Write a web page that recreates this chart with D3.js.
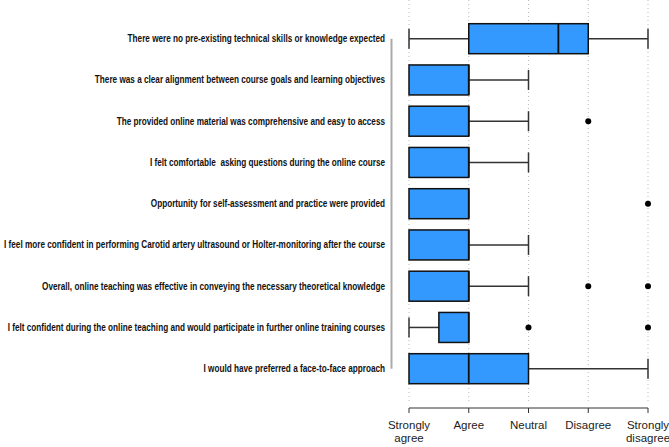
<!DOCTYPE html>
<html>
<head>
<meta charset="utf-8">
<script src="https://cdn.jsdelivr.net/npm/d3@7"></script>
<style>
  body { margin: 0; background: #fff; }
  svg { display: block; }
</style>
</head>
<body>
<script>
// survey items, top to bottom
const questions = [
  "There were no pre-existing technical skills or knowledge expected",
  "There was a clear alignment between course goals and learning objectives",
  "The provided online material was comprehensive and easy to access",
  "I felt comfortable  asking questions during the online course",
  "Opportunity for self-assessment and practice were provided",
  "I feel more confident in performing Carotid artery ultrasound or Holter-monitoring after the course",
  "Overall, online teaching was effective in conveying the necessary theoretical knowledge",
  "I felt confident during the online teaching and would participate in further online training courses",
  "I would have preferred a face-to-face approach"
];

// boxplot stats (1 = strongly agree ... 5 = strongly disagree)
const whiskerLow  = [1, 1, 1, 1, 1, 1, 1, 1,   1];
const q1          = [2, 1, 1, 1, 1, 1, 1, 1.5, 1];
const medians     = [3.5, 2, 2, 2, 2, 2, 2, 2, 2];
const q3          = [4, 2, 2, 2, 2, 2, 2, 2,   3];
const whiskerHigh = [5, 3, 3, 3, 2, 3, 3, 2,   5];
const outliers    = [[], [], [4], [], [5], [], [4, 5], [3, 5], []];

const tickValues = [1, 2, 3, 4, 5];
const tickLabels = [["Strongly", "agree"], ["Agree"], ["Neutral"], ["Disagree"], ["Strongly", "disagree"]];

const width = 669, height = 447;

const svg = d3.select("body").append("svg")
  .attr("width", width)
  .attr("height", height);

const x = d3.scaleLinear().domain([1, 5]).range([409, 648]);
const y = d3.scalePoint().domain(questions).range([38.7, 368.7]);

const boxH = 30, capH = 20;

// dotted grid
svg.append("g")
  .selectAll("line")
  .data(tickValues)
  .join("line")
  .attr("x1", d => x(d)).attr("x2", d => x(d))
  .attr("y1", 0).attr("y2", 403)
  .attr("stroke", "#bbb")
  .attr("stroke-width", 1)
  .attr("stroke-dasharray", "1,3");

// left axis line (grey)
svg.append("line")
  .attr("x1", 391.5).attr("x2", 391.5)
  .attr("y1", y(questions[0])).attr("y2", y(questions[questions.length - 1]))
  .attr("stroke", "#aaa")
  .attr("stroke-width", 2);

// question labels (condensed bold, narrow font not installed so squeeze horizontally)
svg.append("g")
  .selectAll("text")
  .data(questions)
  .join("text")
  .attr("transform", d => "translate(385," + y(d) + ") scale(0.82,1)")
  .attr("dy", "0.35em")
  .attr("text-anchor", "end")
  .style("font-family", "'Liberation Sans', Arial, sans-serif")
  .style("font-weight", "bold")
  .style("font-size", "10px")
  .style("white-space", "pre")
  .attr("fill", "#111")
  .text(d => d);

const rows = questions.map((q, i) => ({
  q, lo: whiskerLow[i], q1: q1[i], med: medians[i], q3: q3[i], hi: whiskerHigh[i], out: outliers[i]
}));

const g = svg.append("g")
  .selectAll("g")
  .data(rows)
  .join("g")
  .attr("transform", d => "translate(0," + y(d.q) + ")");

const wColor = "#333";

// whiskers
g.filter(d => d.lo < d.q1).append("line")
  .attr("x1", d => x(d.lo)).attr("x2", d => x(d.q1))
  .attr("stroke", wColor).attr("stroke-width", 1.5);
g.filter(d => d.lo < d.q1).append("line")
  .attr("x1", d => x(d.lo)).attr("x2", d => x(d.lo))
  .attr("y1", -capH / 2).attr("y2", capH / 2)
  .attr("stroke", wColor).attr("stroke-width", 1.5);
g.filter(d => d.hi > d.q3).append("line")
  .attr("x1", d => x(d.q3)).attr("x2", d => x(d.hi))
  .attr("stroke", wColor).attr("stroke-width", 1.5);
g.filter(d => d.hi > d.q3).append("line")
  .attr("x1", d => x(d.hi)).attr("x2", d => x(d.hi))
  .attr("y1", -capH / 2).attr("y2", capH / 2)
  .attr("stroke", wColor).attr("stroke-width", 1.5);

// boxes
g.append("rect")
  .attr("x", d => x(d.q1))
  .attr("y", -boxH / 2)
  .attr("width", d => x(d.q3) - x(d.q1))
  .attr("height", boxH)
  .attr("fill", "#3399ff")
  .attr("stroke", "#111")
  .attr("stroke-width", 1.5);

// medians
g.append("line")
  .attr("x1", d => x(d.med)).attr("x2", d => x(d.med))
  .attr("y1", -boxH / 2).attr("y2", boxH / 2)
  .attr("stroke", "#111").attr("stroke-width", 1.8);

// outliers
g.selectAll("circle")
  .data(d => d.out)
  .join("circle")
  .attr("cx", d => x(d))
  .attr("cy", 0)
  .attr("r", 3)
  .attr("fill", "#000");

// bottom axis
const axisY = 408;
svg.append("line")
  .attr("x1", x(1)).attr("x2", x(5))
  .attr("y1", axisY).attr("y2", axisY)
  .attr("stroke", "#333").attr("stroke-width", 1);
svg.append("g")
  .selectAll("line")
  .data(tickValues)
  .join("line")
  .attr("x1", d => x(d)).attr("x2", d => x(d))
  .attr("y1", axisY).attr("y2", axisY + 5)
  .attr("stroke", "#333").attr("stroke-width", 1);

const tl = svg.append("g")
  .selectAll("text")
  .data(tickValues)
  .join("text")
  .attr("x", d => x(d))
  .attr("y", 429)
  .attr("text-anchor", "middle")
  .style("font-family", "'Liberation Sans', Arial, sans-serif")
  .style("font-size", "11.5px")
  .attr("fill", "#222");
tl.selectAll("tspan")
  .data((d, i) => tickLabels[i])
  .join("tspan")
  .attr("x", function () { return this.parentNode.getAttribute("x"); })
  .attr("dy", (d, i) => i === 0 ? 0 : "1.15em")
  .text(d => d);
</script>
</body>
</html>
